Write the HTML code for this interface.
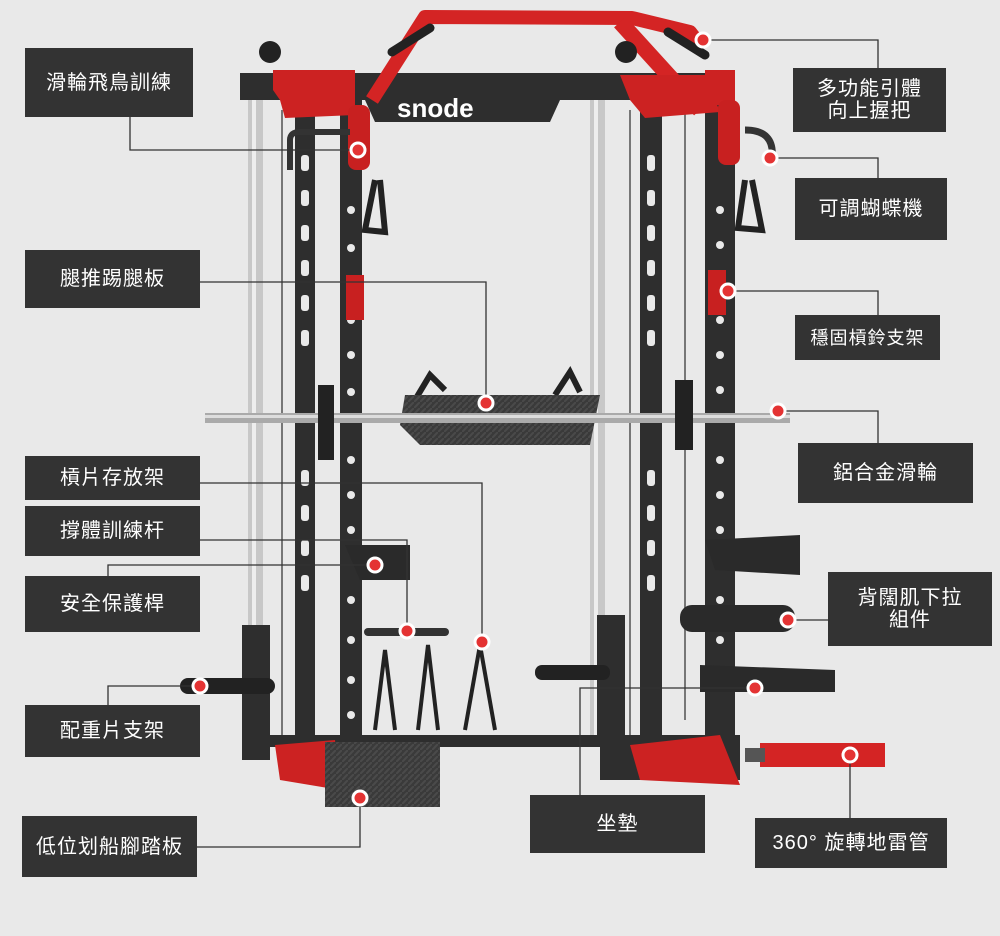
<!DOCTYPE html>
<html><head><meta charset="utf-8"><style>
html,body{margin:0;padding:0;background:#e9e9e9;}
.wrap{position:relative;width:1000px;height:936px;overflow:hidden;background:#e9e9e9;font-family:"Liberation Sans","Noto Sans CJK TC",sans-serif;}
.lb{position:absolute;background:#333;color:#fff;font-size:20px;display:flex;align-items:center;justify-content:center;text-align:center;line-height:22px;letter-spacing:1px;}
svg{position:absolute;left:0;top:0;}
</style></head><body><div class="wrap">
<svg width="1000" height="936" viewBox="0 0 1000 936">
<defs><pattern id="cf" width="6" height="6" patternUnits="userSpaceOnUse"><rect width="6" height="6" fill="#3a3a3a"/><path d="M0 6L6 0" stroke="#4a4a4a" stroke-width="2"/></pattern></defs>
<!-- silver rods -->
<rect x="248" y="95" width="15" height="660" fill="#c8c8c8"/><rect x="252" y="95" width="4" height="660" fill="#eee"/>
<rect x="590" y="95" width="15" height="640" fill="#c8c8c8"/><rect x="594" y="95" width="4" height="640" fill="#eee"/>
<line x1="282" y1="110" x2="282" y2="740" stroke="#777" stroke-width="2"/>
<line x1="630" y1="110" x2="630" y2="740" stroke="#777" stroke-width="2"/>
<line x1="685" y1="110" x2="685" y2="720" stroke="#777" stroke-width="2"/>
<!-- uprights -->
<rect x="295" y="100" width="20" height="650" fill="#2e2e2e"/>
<rect x="340" y="100" width="22" height="690" fill="#2e2e2e"/>
<rect x="640" y="100" width="22" height="650" fill="#2e2e2e"/>
<rect x="705" y="100" width="30" height="680" fill="#2e2e2e"/>
<rect x="242" y="625" width="28" height="135" fill="#2e2e2e"/>
<rect x="597" y="615" width="28" height="125" fill="#2e2e2e"/>
<g fill="#e9e9e9">
<circle cx="351" cy="210" r="4"/><circle cx="351" cy="248" r="4"/><circle cx="351" cy="320" r="4"/><circle cx="351" cy="355" r="4"/><circle cx="351" cy="392" r="4"/><circle cx="351" cy="460" r="4"/><circle cx="351" cy="495" r="4"/><circle cx="351" cy="530" r="4"/><circle cx="351" cy="600" r="4"/><circle cx="351" cy="640" r="4"/><circle cx="351" cy="680" r="4"/><circle cx="351" cy="715" r="4"/>
<circle cx="720" cy="210" r="4"/><circle cx="720" cy="245" r="4"/><circle cx="720" cy="320" r="4"/><circle cx="720" cy="355" r="4"/><circle cx="720" cy="390" r="4"/><circle cx="720" cy="460" r="4"/><circle cx="720" cy="495" r="4"/><circle cx="720" cy="530" r="4"/><circle cx="720" cy="600" r="4"/><circle cx="720" cy="640" r="4"/>
<rect x="301" y="155" width="8" height="16" rx="3"/><rect x="301" y="190" width="8" height="16" rx="3"/><rect x="301" y="225" width="8" height="16" rx="3"/><rect x="301" y="260" width="8" height="16" rx="3"/><rect x="301" y="295" width="8" height="16" rx="3"/><rect x="301" y="330" width="8" height="16" rx="3"/><rect x="301" y="470" width="8" height="16" rx="3"/><rect x="301" y="505" width="8" height="16" rx="3"/><rect x="301" y="540" width="8" height="16" rx="3"/><rect x="301" y="575" width="8" height="16" rx="3"/>
<rect x="647" y="155" width="8" height="16" rx="3"/><rect x="647" y="190" width="8" height="16" rx="3"/><rect x="647" y="225" width="8" height="16" rx="3"/><rect x="647" y="260" width="8" height="16" rx="3"/><rect x="647" y="295" width="8" height="16" rx="3"/><rect x="647" y="330" width="8" height="16" rx="3"/><rect x="647" y="470" width="8" height="16" rx="3"/><rect x="647" y="505" width="8" height="16" rx="3"/><rect x="647" y="540" width="8" height="16" rx="3"/><rect x="647" y="575" width="8" height="16" rx="3"/>
</g>
<!-- top beam -->
<rect x="240" y="73" width="495" height="27" fill="#2e2e2e"/>
<polygon points="365,100 560,100 550,122 375,122" fill="#2e2e2e"/>
<text x="397" y="117" font-family="Liberation Sans" font-weight="bold" font-size="26" fill="#fff">snode</text>
<!-- red arch -->
<path d="M372 100 L425 17 L632 18 L690 32 L700 45" stroke="#d42424" stroke-width="14" fill="none" stroke-linejoin="round"/>
<path d="M620 22 L700 110" stroke="#d42424" stroke-width="16" fill="none"/>
<path d="M392 52 L430 28" stroke="#222" stroke-width="9" stroke-linecap="round"/>
<path d="M668 32 L705 55" stroke="#222" stroke-width="9" stroke-linecap="round"/>
<polygon points="273,70 355,70 355,115 285,118 280,100 273,90" fill="#cc2222"/>
<polygon points="620,75 705,75 720,112 645,118 630,100" fill="#cc2222"/>
<rect x="705" y="70" width="30" height="35" fill="#cc2222"/>
<!-- pulleys -->
<circle cx="270" cy="52" r="11" fill="#222"/><circle cx="626" cy="52" r="11" fill="#222"/>
<rect x="348" y="105" width="22" height="65" rx="8" fill="#c82020"/>
<rect x="718" y="100" width="22" height="65" rx="8" fill="#c82020"/>
<path d="M375 180 L365 230 L385 232 L380 180" stroke="#222" stroke-width="6" fill="none"/>
<path d="M745 180 L738 228 L762 230 L752 180" stroke="#222" stroke-width="6" fill="none"/>
<path d="M290 170 L290 140 Q290 132 300 132 L350 132" stroke="#333" stroke-width="6" fill="none"/>
<path d="M745 130 Q775 130 772 158" stroke="#333" stroke-width="7" fill="none"/>
<!-- j hooks -->
<rect x="346" y="275" width="18" height="45" fill="#c82020"/><rect x="708" y="270" width="18" height="45" fill="#c82020"/>
<!-- leg plate -->
<path d="M415 400 L430 375 L445 390 M555 395 L570 372 L580 392" stroke="#222" stroke-width="6" fill="none"/>
<polygon points="405,395 600,395 590,445 420,445 400,425" fill="url(#cf)"/>
<!-- barbell -->
<rect x="205" y="413" width="585" height="10" fill="#aaa"/><rect x="205" y="415" width="585" height="3" fill="#ddd"/>
<rect x="318" y="385" width="16" height="75" fill="#222"/><rect x="675" y="380" width="18" height="70" fill="#222"/>
<!-- arms -->
<polygon points="345,545 410,545 410,580 360,580" fill="#2a2a2a"/>
<polygon points="705,540 800,535 800,575 715,570" fill="#2a2a2a"/>
<path d="M368 632 L445 632" stroke="#333" stroke-width="8" stroke-linecap="round"/>
<!-- plate storage horns -->
<path d="M375 730 L385 650 L395 730 M418 730 L428 645 L438 730 M465 730 L480 645 L495 730" stroke="#222" stroke-width="4" fill="none"/>
<rect x="180" y="678" width="95" height="16" rx="8" fill="#222"/>
<rect x="535" y="665" width="75" height="15" rx="7" fill="#222"/>
<!-- pads -->
<rect x="680" y="605" width="115" height="27" rx="12" fill="#2a2a2a"/>
<polygon points="700,665 835,670 835,692 700,692" fill="#2a2a2a"/>
<!-- base -->
<rect x="270" y="735" width="470" height="12" fill="#2e2e2e"/>
<rect x="600" y="735" width="140" height="45" fill="#2e2e2e"/>
<polygon points="275,745 335,740 340,790 280,780" fill="#cc2222"/>
<polygon points="630,745 720,735 740,785 640,780" fill="#cc2222"/>
<rect x="325" y="742" width="115" height="65" fill="url(#cf)"/>
<rect x="760" y="743" width="125" height="24" fill="#d42424"/>
<rect x="745" y="748" width="20" height="14" fill="#555"/>
<!-- connectors -->
<g stroke="#333" stroke-width="1.3" fill="none">
<path d="M130 117 V150 H358"/>
<path d="M200 282 H486 V403"/>
<path d="M200 483 H482 V642"/>
<path d="M200 540 H407 V631"/>
<path d="M108 576 V565 H375"/>
<path d="M108 705 V686 H200"/>
<path d="M197 847 H360 V798"/>
<path d="M580 795 V688 H755"/>
<path d="M850 818 V755"/>
<path d="M828 620 H788"/>
<path d="M878 443 V411 H778"/>
<path d="M878 315 V291 H728"/>
<path d="M878 178 V158 H770"/>
<path d="M878 68 V40 H703"/>
</g>
<g fill="#e43333" stroke="#fff" stroke-width="3">
<circle cx="358" cy="150" r="7"/><circle cx="486" cy="403" r="7"/><circle cx="482" cy="642" r="7"/><circle cx="407" cy="631" r="7"/><circle cx="375" cy="565" r="7"/><circle cx="200" cy="686" r="7"/><circle cx="360" cy="798" r="7"/><circle cx="755" cy="688" r="7"/><circle cx="850" cy="755" r="7"/><circle cx="788" cy="620" r="7"/><circle cx="778" cy="411" r="7"/><circle cx="728" cy="291" r="7"/><circle cx="770" cy="158" r="7"/><circle cx="703" cy="40" r="7"/>
</g>
</svg>
<div class="lb" style="left:25px;top:48px;width:168px;height:69px;">滑輪飛鳥訓練</div>
<div class="lb" style="left:25px;top:250px;width:175px;height:58px;">腿推踢腿板</div>
<div class="lb" style="left:25px;top:456px;width:175px;height:44px;">槓片存放架</div>
<div class="lb" style="left:25px;top:506px;width:175px;height:50px;">撐體訓練杆</div>
<div class="lb" style="left:25px;top:576px;width:175px;height:56px;">安全保護桿</div>
<div class="lb" style="left:25px;top:705px;width:175px;height:52px;">配重片支架</div>
<div class="lb" style="left:22px;top:816px;width:175px;height:61px;">低位划船腳踏板</div>
<div class="lb" style="left:530px;top:795px;width:175px;height:58px;">坐墊</div>
<div class="lb" style="left:755px;top:818px;width:192px;height:50px;">360° 旋轉地雷管</div>
<div class="lb" style="left:828px;top:572px;width:164px;height:74px;">背闊肌下拉<br>組件</div>
<div class="lb" style="left:798px;top:443px;width:175px;height:60px;">鋁合金滑輪</div>
<div class="lb" style="left:795px;top:315px;width:145px;height:45px;font-size:18px;">穩固槓鈴支架</div>
<div class="lb" style="left:795px;top:178px;width:152px;height:62px;">可調蝴蝶機</div>
<div class="lb" style="left:793px;top:68px;width:153px;height:64px;">多功能引體<br>向上握把</div>
</div></body></html>
